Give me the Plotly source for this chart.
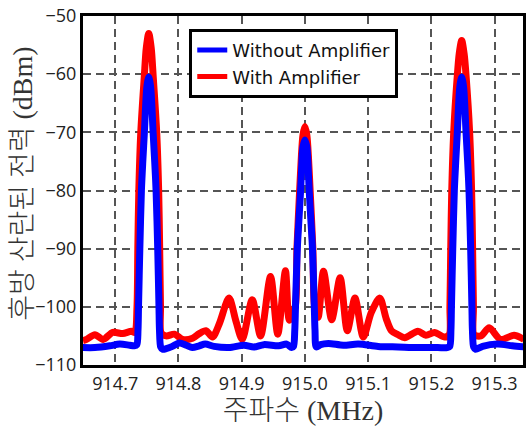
import plotly.graph_objects as go

# Frequency (MHz) and backscattered power (dBm)
freq_without = [
    914.6489, 914.6678, 914.6914, 914.7071, 914.7228, 914.7300,
    914.7341, 914.7360, 914.7368, 914.7389, 914.7414, 914.7436, 914.7461, 914.7499,
    914.7530,
    914.7561, 914.7599, 914.7624, 914.7646, 914.7672, 914.7692, 914.7700, 914.7719, 914.7750,
    914.7805, 914.7904, 914.8014, 914.8124, 914.8219, 914.8329, 914.8423, 914.8564,
    914.8800, 914.9036, 914.9193, 914.9351, 914.9586, 914.9712, 914.9790,
    914.9819, 914.9840, 914.9851, 914.9880, 914.9906, 914.9932, 914.9953, 914.9969,
    915.0000,
    915.0031, 915.0047, 915.0068, 915.0094, 915.0120, 915.0149, 915.0160, 915.0181,
    915.0247, 915.0372, 915.0608, 915.0844, 915.1159, 915.1473, 915.1788, 915.2102, 915.2250,
    915.2291, 915.2310, 915.2318, 915.2339, 915.2364, 915.2386, 915.2411, 915.2449,
    915.2480,
    915.2511, 915.2549, 915.2574, 915.2596, 915.2622, 915.2642, 915.2650, 915.2669, 915.2700,
    915.2810, 915.3046, 915.3281, 915.3470,
]
power_without = [
    -107.0, -107.0, -106.7, -106.4, -106.6, -106.7,
    -106.5, -104.0, -100.0, -90.0, -80.0, -75.0, -70.0, -62.3,
    -60.5,
    -62.3, -70.0, -75.0, -80.0, -90.0, -100.0, -104.0, -106.9, -107.3,
    -107.2, -106.8, -106.2, -106.6, -107.0, -106.7, -106.4, -106.8,
    -107.0, -106.6, -106.9, -106.5, -106.7, -106.4, -107.0,
    -106.8, -104.0, -100.0, -90.0, -85.0, -80.0, -75.0, -72.5,
    -71.3,
    -72.5, -75.0, -80.0, -85.0, -90.0, -100.0, -104.0, -106.9,
    -106.5, -106.3, -106.6, -106.4, -106.8, -106.9, -107.0, -107.0, -107.0,
    -106.8, -104.0, -100.0, -90.0, -80.0, -75.0, -70.0, -62.3,
    -60.5,
    -62.3, -70.0, -75.0, -80.0, -90.0, -100.0, -104.0, -106.9, -107.3,
    -106.8, -106.4, -106.7, -106.9,
]

freq_with = [
    914.6489, 914.6547, 914.6678, 914.6808, 914.6961, 914.7118, 914.7255, 914.7310,
    914.7344, 914.7357, 914.7373, 914.7404, 914.7459, 914.7491,
    914.7530,
    914.7569, 914.7601, 914.7656, 914.7687, 914.7703, 914.7716, 914.7727,
    914.7805, 914.7936, 914.8066, 914.8223, 914.8329, 914.8434, 914.8538, 914.8643,
    914.8800, 914.8910, 914.9009, 914.9167, 914.9299, 914.9456, 914.9571, 914.9692, 914.9755,
    914.9846, 914.9874, 914.9917, 914.9945, 914.9969,
    915.0000,
    915.0031, 915.0055, 915.0083, 915.0126, 915.0154,
    915.0208, 915.0294, 915.0424, 915.0557, 915.0671, 915.0792, 915.0923, 915.1049,
    915.1185, 915.1285, 915.1368, 915.1473, 915.1579, 915.1788, 915.1914, 915.2050, 915.2208,
    915.2283, 915.2294, 915.2307, 915.2323, 915.2354, 915.2409, 915.2441,
    915.2480,
    915.2519, 915.2551, 915.2606, 915.2637, 915.2653, 915.2666, 915.2677,
    915.2783, 915.2915, 915.3093, 915.3308, 915.3465,
]
power_with = [
    -105.8, -105.6, -104.8, -105.6, -104.4, -104.6, -104.2, -104.4,
    -100.0, -90.0, -80.0, -70.0, -60.5, -55.5,
    -53.0,
    -55.5, -60.5, -70.0, -80.0, -90.0, -100.0, -104.5,
    -105.0, -104.7, -105.6, -105.4, -104.6, -104.1, -105.2, -103.0,
    -98.5, -102.5, -105.6, -98.8, -105.0, -94.8, -104.7, -93.8, -102.3,
    -100.0, -90.0, -80.0, -74.0, -70.5,
    -69.0,
    -70.5, -74.0, -80.0, -90.0, -100.0,
    -101.8, -93.9, -102.2, -95.0, -104.1, -98.5, -105.2, -101.0,
    -98.5, -102.0, -104.1, -104.8, -105.3, -104.2, -104.9, -104.4, -105.2,
    -104.8, -100.0, -90.0, -80.0, -70.0, -60.5, -56.5,
    -54.2,
    -56.5, -60.5, -70.0, -80.0, -90.0, -100.0, -104.8,
    -105.0, -103.6, -105.6, -104.9, -105.6,
]

x_ticks = [914.7, 914.8, 914.9, 915.0, 915.1, 915.2, 915.3]
x_tick_labels = ["914.7", "914.8", "914.9", "915.0", "915.1", "915.2", "915.3"]
y_ticks = [-50, -60, -70, -80, -90, -100, -110]

fig = go.Figure()
fig.add_trace(go.Scatter(
    x=freq_with, y=power_with, mode="lines", name="With Amplifier",
    line=dict(color="#ff0000", width=7, shape="spline", smoothing=0.8),
    legendrank=2,
))
fig.add_trace(go.Scatter(
    x=freq_without, y=power_without, mode="lines", name="Without Amplifier",
    line=dict(color="#0000ff", width=7, shape="spline", smoothing=0.8),
    legendrank=1,
))

tick_font = dict(family="Open Sans, sans-serif", size=18, color="#222222")
title_font = dict(family="Liberation Serif, Noto Sans CJK KR, serif", size=28,
                  color="#333333", weight=300)

fig.update_layout(
    width=529, height=426,
    margin=dict(l=83, r=3, t=14, b=61),
    paper_bgcolor="white", plot_bgcolor="white",
    showlegend=True,
    legend=dict(
        x=0.2415, y=0.963, xanchor="left", yanchor="top",
        bgcolor="white", bordercolor="black", borderwidth=3,
        font=dict(family="DejaVu Sans, sans-serif", size=18, color="#111111"),
        tracegroupgap=0, itemsizing="constant",
    ),
    xaxis=dict(
        range=[914.649, 915.345],
        tickmode="array", tickvals=x_ticks, ticktext=x_tick_labels,
        tickfont=tick_font, ticks="",
        showline=True, linecolor="black", linewidth=3, mirror=True,
        showgrid=True, gridcolor="#555555", gridwidth=1.5, griddash="8px,5px",
        zeroline=False,
        title=dict(text="주파수 (MHz)", font=title_font, standoff=6),
    ),
    yaxis=dict(
        range=[-110, -50],
        tickmode="array", tickvals=y_ticks,
        tickfont=tick_font, ticks="",
        showline=True, linecolor="black", linewidth=3, mirror=True,
        showgrid=True, gridcolor="#555555", gridwidth=1.5, griddash="8px,5px",
        zeroline=False,
    ),
    annotations=[dict(
        text="후방 산란된 전력 (dBm)", textangle=-90,
        xref="paper", yref="paper", x=-0.138, y=0.52,
        xanchor="center", yanchor="middle", showarrow=False,
        font=title_font,
    )],
)

fig.write_html("out.html")
